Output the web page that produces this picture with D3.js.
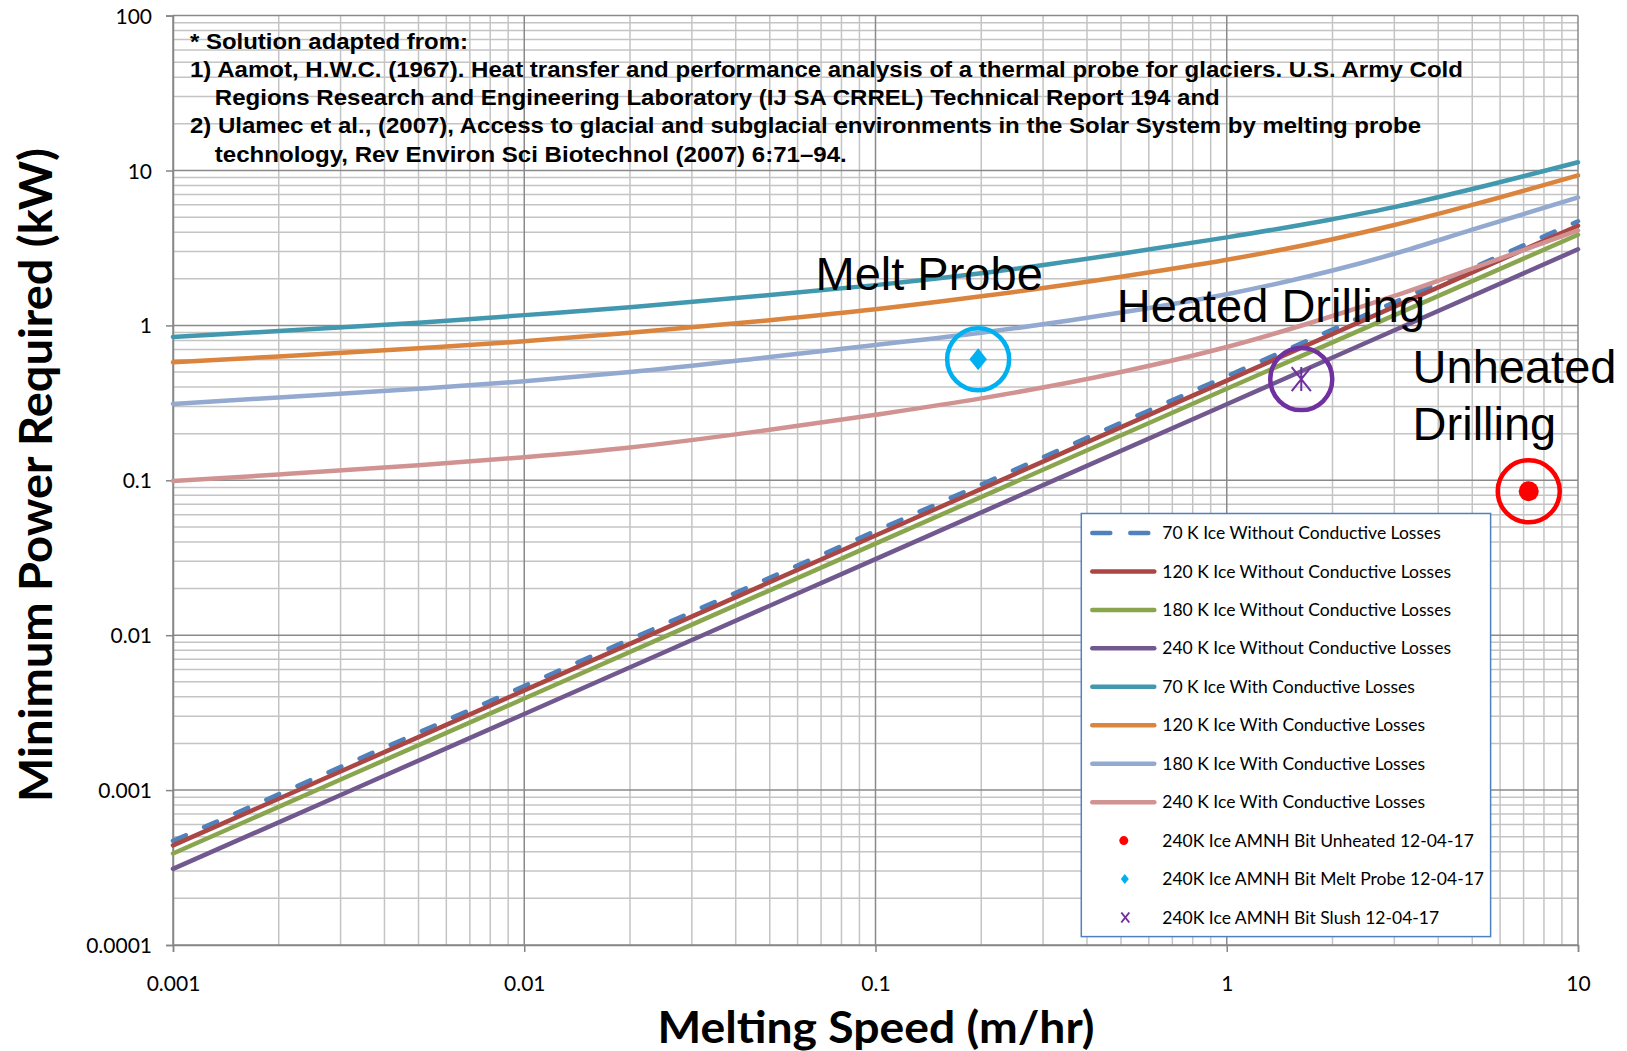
<!DOCTYPE html>
<html lang="en">
<head>
<meta charset="UTF-8">
<title>Melting speed vs power</title>
<style>
  body { margin: 0; background: #fff; }
  svg { display: block; }
  .tick-label { font-family: Lato, "Open Sans", sans-serif; font-size: 21px; fill: #000; }
  .legend-label { font-family: Lato, "Open Sans", sans-serif; font-size: 17.5px; fill: #000; }
</style>
</head>
<body>
<script src="https://cdnjs.cloudflare.com/ajax/libs/d3/7.8.5/d3.min.js"></script>
<script>
// melting speed (m/hr)
const speeds = [0.001, 0.002, 0.005, 0.01, 0.02, 0.05, 0.1, 0.2, 0.5, 1, 2, 3, 5, 10];
// straight series (no conductive losses) only need the decades
const speedsStraight = [0.001, 0.01, 0.1, 1, 10];

// power (kW) without conductive losses
const noLoss70 = [0.00047, 0.0047, 0.047, 0.47, 4.7];
const noLoss120 = [0.00044, 0.0044, 0.044, 0.44, 4.4];
const noLoss180 = [0.00039, 0.0039, 0.039, 0.39, 3.85];
const noLoss240 = [0.00031, 0.0031, 0.031, 0.31, 3.1];

// power (kW) with conductive losses
const loss70 = [0.843, 0.92, 1.04, 1.165, 1.31, 1.57, 1.82, 2.17, 2.9, 3.7, 4.85, 5.8, 7.6, 11.3];
const loss120 = [0.578, 0.63, 0.712, 0.789, 0.895, 1.08, 1.27, 1.54, 2.06, 2.65, 3.6, 4.45, 6.0, 9.3];
const loss180 = [0.311, 0.343, 0.39, 0.436, 0.50, 0.625, 0.747, 0.897, 1.21, 1.59, 2.26, 2.9, 4.15, 6.7];
const loss240 = [0.099, 0.109, 0.125, 0.141, 0.163, 0.212, 0.265, 0.338, 0.50, 0.725, 1.15, 1.55, 2.33, 4.1];

// measured points [speed, power]
const unheated = [7.24, 0.085];
const meltProbe = [0.196, 0.605];
const slush = [1.63, 0.45];

const seriesNames = [
  '70 K Ice Without Conductive Losses',
  '120 K Ice Without Conductive Losses',
  '180 K Ice Without Conductive Losses',
  '240 K Ice Without Conductive Losses',
  '70 K Ice With Conductive Losses',
  '120 K Ice With Conductive Losses',
  '180 K Ice With Conductive Losses',
  '240 K Ice With Conductive Losses'
];
const pointNames = [
  '240K Ice AMNH Bit Unheated 12-04-17',
  '240K Ice AMNH Bit Melt Probe 12-04-17',
  '240K Ice AMNH Bit Slush 12-04-17'
];
const xTicks = [0.001, 0.01, 0.1, 1, 10];
const yTicks = [0.0001, 0.001, 0.01, 0.1, 1, 10, 100];

const citation = [
  '* Solution adapted from:',
  '1) Aamot, H.W.C. (1967). Heat transfer and performance analysis of a thermal probe for glaciers. U.S. Army Cold',
  'Regions Research and Engineering Laboratory (IJ SA CRREL) Technical Report 194 and',
  '2) Ulamec et al., (2007), Access to glacial and subglacial environments in the Solar System by melting probe',
  'technology, Rev Environ Sci Biotechnol (2007) 6:71\u201394.'
];
const citationWidths = [278, 1273, 1005, 1231, 632];

const colors = ['#4F81BD', '#AA4643', '#89A54E', '#71588F', '#4198AF', '#DB843D', '#93A9CF', '#D19392'];

const W = 1627, H = 1051;
const margin = {top: 15.6, left: 173, right: 49, bottom: 106};
const innerW = W - margin.left - margin.right;
const innerH = H - margin.top - margin.bottom;

const svg = d3.select('body').append('svg').attr('width', W).attr('height', H);
const chart = svg.append('g').attr('transform', `translate(${margin.left},${margin.top})`);

const x = d3.scaleLog().domain([0.001, 10]).range([0, innerW]);
const y = d3.scaleLog().domain([0.0001, 100]).range([innerH, 0]);

// grid: minor first, then decades
const minorX = [], minorY = [];
for (let e = -3; e < 1; e++) for (let m = 2; m <= 9; m++) minorX.push(m * Math.pow(10, e));
for (let e = -4; e < 2; e++) for (let m = 2; m <= 9; m++) minorY.push(m * Math.pow(10, e));

const grid = chart.append('g');
grid.selectAll('.mx').data(minorX).enter().append('line')
  .attr('x1', d => x(d)).attr('x2', d => x(d)).attr('y1', 0).attr('y2', innerH)
  .attr('stroke', '#c4c4c4').attr('stroke-width', 1.5);
grid.selectAll('.my').data(minorY).enter().append('line')
  .attr('y1', d => y(d)).attr('y2', d => y(d)).attr('x1', 0).attr('x2', innerW)
  .attr('stroke', '#c4c4c4').attr('stroke-width', 1.5);
grid.selectAll('.Mx').data(xTicks).enter().append('line')
  .attr('x1', d => x(d)).attr('x2', d => x(d)).attr('y1', 0).attr('y2', innerH)
  .attr('stroke', '#8a8a8a').attr('stroke-width', 1.5);
grid.selectAll('.My').data(yTicks).enter().append('line')
  .attr('y1', d => y(d)).attr('y2', d => y(d)).attr('x1', 0).attr('x2', innerW)
  .attr('stroke', '#8a8a8a').attr('stroke-width', 1.5);

// axes
const yAxis = d3.axisLeft(y).tickValues(yTicks).tickSize(7).tickFormat(d => d.toString());
const xAxis = d3.axisBottom(x).tickValues(xTicks).tickSize(7).tickFormat(d => d.toString());
const gy = chart.append('g').call(yAxis);
const gx = chart.append('g').attr('transform', `translate(0,${innerH})`).call(xAxis);
[gx, gy].forEach(g => {
  g.select('.domain').attr('stroke', '#868686').attr('stroke-width', 1.5);
  g.selectAll('.tick line').attr('stroke', '#868686').attr('stroke-width', 1.5);
  g.selectAll('.tick text').attr('class', 'tick-label').attr('fill', '#000');
  g.attr('font-size', null).attr('font-family', null);
});
gy.selectAll('.tick text').attr('x', -21).attr('dy', '0.36em');
gx.selectAll('.tick text').attr('y', 30).attr('dy', '0.76em');

// citation note
const note = chart.append('g').attr('font-family', '"Liberation Sans", Arial, sans-serif')
  .attr('font-weight', 'bold').attr('font-size', 22).attr('fill', '#000');
citation.forEach((t, i) => {
  note.append('text')
    .attr('x', (i === 2 || i === 4) ? 41.8 : 17)
    .attr('y', 33.2 + i * 28.2)
    .attr('textLength', citationWidths[i])
    .attr('lengthAdjust', 'spacingAndGlyphs')
    .text(t);
});

// series
const straightData = [noLoss70, noLoss120, noLoss180, noLoss240]
  .map(vals => speedsStraight.map((s, i) => [s, vals[i]]));
const curveData = [loss70, loss120, loss180, loss240]
  .map(vals => speeds.map((s, i) => [s, vals[i]]));
const allSeries = straightData.concat(curveData);

const line = d3.line().x(d => x(d[0])).y(d => y(d[1])).curve(d3.curveMonotoneX);
const lines = chart.append('g');
allSeries.forEach((data, i) => {
  lines.append('path')
    .attr('d', line(data))
    .attr('fill', 'none')
    .attr('stroke', colors[i])
    .attr('stroke-width', 4.5)
    .attr('stroke-linecap', 'round')
    .attr('stroke-dasharray', i === 0 ? '14,20' : null);
});

// big labels
const big = chart.append('g').attr('font-family', '"Liberation Sans", Arial, sans-serif')
  .attr('font-size', 47).attr('fill', '#000');
big.append('text').attr('x', 815.5 - margin.left).attr('y', 290 - margin.top).text('Melt Probe');
big.append('text').attr('x', 1116.8 - margin.left).attr('y', 322 - margin.top).text('Heated Drilling');
big.append('text').attr('x', 1412.6 - margin.left).attr('y', 382.7 - margin.top).text('Unheated');
big.append('text').attr('x', 1412.6 - margin.left).attr('y', 440 - margin.top).text('Drilling');

// measured points with highlight rings
const pts = chart.append('g');
function ring(p, c) {
  pts.append('circle').attr('cx', x(p[0])).attr('cy', y(p[1])).attr('r', 31)
    .attr('fill', 'none').attr('stroke', c).attr('stroke-width', 4.5);
}
ring(unheated, '#FF0000');
ring(meltProbe, '#00B0F0');
ring(slush, '#7030A0');

function drawDot(g, cx, cy, r) {
  g.append('circle').attr('cx', cx).attr('cy', cy).attr('r', r).attr('fill', '#FF0000');
}
function drawDiamond(g, cx, cy, s) {
  g.append('path').attr('d', `M${cx},${cy - s}L${cx + s * 0.8},${cy}L${cx},${cy + s}L${cx - s * 0.8},${cy}Z`)
    .attr('fill', '#00B0F0');
}
function drawStar(g, cx, cy, s, vertical, sw) {
  let d = `M${cx - s * 0.8},${cy - s}L${cx + s * 0.8},${cy + s}M${cx + s * 0.8},${cy - s}L${cx - s * 0.8},${cy + s}`;
  if (vertical) d += `M${cx},${cy - s}L${cx},${cy + s}`;
  g.append('path').attr('d', d).attr('stroke', '#7030A0').attr('stroke-width', sw).attr('fill', 'none');
}
drawDot(pts, x(unheated[0]), y(unheated[1]), 10);
drawDiamond(pts, x(meltProbe[0]), y(meltProbe[1]), 11);
drawStar(pts, x(slush[0]), y(slush[1]), 12, true, 2);

// legend
const lg = svg.append('g').attr('transform', 'translate(1081.3,513.5)');
lg.append('rect').attr('width', 409.3).attr('height', 423.1)
  .attr('fill', '#fff').attr('stroke', '#4F81BD').attr('stroke-width', 1.5);
const rowY = i => 19.5 + i * 38.45;
seriesNames.forEach((name, i) => {
  lg.append('line').attr('x1', 11).attr('x2', 73).attr('y1', rowY(i)).attr('y2', rowY(i))
    .attr('stroke', colors[i]).attr('stroke-width', 4.5).attr('stroke-linecap', 'round')
    .attr('stroke-dasharray', i === 0 ? '18,20' : null);
  lg.append('text').attr('class', 'legend-label').attr('x', 81).attr('y', rowY(i)).attr('dy', '0.35em').text(name);
});
pointNames.forEach((name, j) => {
  const i = seriesNames.length + j;
  const cx = 42.5, cy = rowY(i);
  if (j === 0) drawDot(lg, cx, cy, 4.5);
  if (j === 1) drawDiamond(lg, cx + 1, cy, 5);
  if (j === 2) drawStar(lg, cx + 1.5, cy, 5, false, 2);
  lg.append('text').attr('class', 'legend-label').attr('x', 81).attr('y', cy).attr('dy', '0.35em').text(name);
});

// axis titles
svg.append('text')
  .attr('transform', 'translate(52,475) rotate(-90)')
  .attr('text-anchor', 'middle')
  .attr('font-family', 'Lato, "Open Sans", sans-serif').attr('font-weight', 'bold')
  .attr('font-size', 46).attr('textLength', 654).attr('lengthAdjust', 'spacingAndGlyphs')
  .text('Minimum Power Required (kW)');
svg.append('text')
  .attr('x', 876).attr('y', 1042.8)
  .attr('text-anchor', 'middle')
  .attr('font-family', 'Lato, "Open Sans", sans-serif').attr('font-weight', 'bold')
  .attr('font-size', 43).attr('textLength', 437).attr('lengthAdjust', 'spacingAndGlyphs')
  .text('Melting Speed (m/hr)');
</script>
</body>
</html>
